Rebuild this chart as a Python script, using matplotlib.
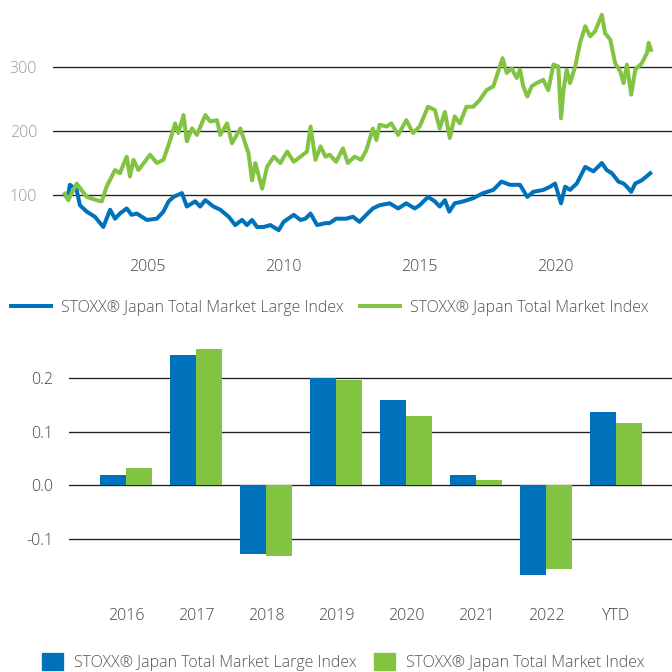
import matplotlib
matplotlib.use('Agg')
import matplotlib.pyplot as plt
from matplotlib.lines import Line2D
from matplotlib.patches import Patch
import numpy as np

plt.rcParams['font.family'] = ['Open Sans', 'DejaVu Sans']
plt.rcParams['font.weight'] = 'light'

BLUE = '#0071BB'
GREEN = '#82C341'
FS = 12

# index levels (decimal years)
large_years = [2001.98, 2002.08, 2002.16, 2002.41, 2002.53, 2002.78, 2003.08, 2003.39, 2003.64, 2003.82,
               2004.00, 2004.25, 2004.43, 2004.62, 2004.99, 2005.36, 2005.60, 2005.79, 2005.97, 2006.28,
               2006.46, 2006.77, 2006.95, 2007.14, 2007.44, 2007.69, 2008.00, 2008.24, 2008.49, 2008.67,
               2008.86, 2009.04, 2009.29, 2009.53, 2009.84, 2010.02, 2010.39, 2010.64, 2010.82, 2011.01,
               2011.25, 2011.56, 2011.71, 2011.95, 2012.32, 2012.57, 2012.81, 2013.06, 2013.30, 2013.55,
               2013.92, 2014.23, 2014.53, 2014.84, 2015.02, 2015.33, 2015.58, 2015.76, 2015.95, 2016.11,
               2016.31, 2016.62, 2016.99, 2017.36, 2017.73, 2018.03, 2018.34, 2018.71, 2018.98, 2019.20,
               2019.57, 2019.82, 2020.00, 2020.22, 2020.37, 2020.55, 2020.80, 2021.11, 2021.41, 2021.72,
               2021.90, 2022.09, 2022.33, 2022.52, 2022.64, 2022.80, 2022.95, 2023.19, 2023.50]
large_vals = [100, 95, 116, 108, 84, 74, 66, 50, 77, 63,
              71, 79, 69, 71, 61, 63, 74, 90, 97, 103,
              82, 90, 82, 92, 82, 77, 66, 53, 61, 53,
              61, 50, 50, 53, 45, 58, 69, 61, 63, 71,
              53, 56, 56, 63, 63, 66, 58, 69, 79, 84,
              87, 79, 87, 79, 84, 97, 90, 82, 92, 74,
              87, 90, 95, 103, 108, 121, 116, 116, 97, 105,
              108, 113, 118, 87, 113, 108, 118, 144, 137, 150,
              139, 134, 121, 118, 113, 105, 118, 123, 134]

total_years = [2001.98, 2002.10, 2002.41, 2002.78, 2003.14, 2003.33, 2003.51, 2003.82, 2004.00, 2004.25,
               2004.37, 2004.50, 2004.68, 2005.11, 2005.36, 2005.60, 2005.85, 2006.03, 2006.15, 2006.34,
               2006.46, 2006.65, 2006.83, 2007.14, 2007.32, 2007.57, 2007.69, 2007.94, 2008.12, 2008.43,
               2008.73, 2008.86, 2008.98, 2009.23, 2009.41, 2009.66, 2009.90, 2010.15, 2010.39, 2010.64,
               2010.88, 2011.01, 2011.19, 2011.38, 2011.56, 2011.71, 2011.95, 2012.20, 2012.38, 2012.63,
               2012.87, 2013.06, 2013.30, 2013.43, 2013.55, 2013.80, 2013.98, 2014.23, 2014.53, 2014.78,
               2015.02, 2015.33, 2015.58, 2015.76, 2015.95, 2016.13, 2016.31, 2016.50, 2016.74, 2016.99,
               2017.24, 2017.48, 2017.73, 2017.91, 2018.07, 2018.22, 2018.40, 2018.59, 2018.71, 2018.83,
               2018.98, 2019.14, 2019.32, 2019.57, 2019.75, 2019.94, 2020.12, 2020.22, 2020.31, 2020.43,
               2020.55, 2020.74, 2020.92, 2021.11, 2021.29, 2021.47, 2021.72, 2021.84, 2022.03, 2022.21,
               2022.40, 2022.52, 2022.64, 2022.80, 2022.95, 2023.19, 2023.38, 2023.44, 2023.53]
total_vals = [102, 92, 118, 97, 92, 90, 113, 139, 134, 160,
              129, 155, 139, 163, 150, 155, 186, 212, 197, 225,
              184, 204, 194, 225, 215, 217, 194, 212, 181, 204,
              165, 123, 150, 110, 144, 160, 150, 168, 152, 160,
              168, 207, 155, 176, 160, 163, 152, 173, 150, 160,
              155, 170, 204, 186, 210, 207, 212, 194, 217, 197,
              207, 238, 233, 204, 230, 189, 223, 212, 238, 238,
              249, 264, 270, 293, 314, 291, 298, 283, 296, 270,
              254, 270, 275, 280, 264, 304, 301, 220, 264, 296,
              275, 301, 338, 364, 348, 356, 382, 353, 343, 306,
              293, 275, 304, 257, 296, 306, 322, 338, 327]

# annual returns
bar_labels = ['2016', '2017', '2018', '2019', '2020', '2021', '2022', 'YTD']
large_ret = [0.019, 0.243, -0.128, 0.199, 0.158, 0.019, -0.167, 0.137]
total_ret = [0.033, 0.254, -0.131, 0.195, 0.128, 0.009, -0.155, 0.115]

name_large = 'STOXX® Japan Total Market Large Index'
name_total = 'STOXX® Japan Total Market Index'

fig = plt.figure(figsize=(7, 7), dpi=96)

# ---- line chart
ax1 = fig.add_axes([53/672, 1 - 250/672, 1 - 53/672, 250/672])
ax1.plot(large_years, large_vals, color=BLUE, lw=3, solid_joinstyle='round', zorder=3)
ax1.plot(total_years, total_vals, color=GREEN, lw=3, solid_joinstyle='round', zorder=3)
ax1.set_xlim(2001.54, 2024.3)
ax1.set_ylim(14, 405)
ax1.set_yticks([100, 200, 300])
ax1.set_xticks([2005, 2010, 2015, 2020])
ax1.set_xticklabels(['2005', '2010', '2015', '2020'])
ax1.yaxis.grid(True, color='#222222', lw=1)
ax1.set_axisbelow(True)
for s in ax1.spines.values():
    s.set_visible(False)
ax1.tick_params(axis='y', length=0, pad=12, labelsize=FS, labelcolor='#999999')
ax1.tick_params(axis='x', length=0, pad=7, labelsize=FS, labelcolor='#444444')

h1 = [Line2D([], [], color=BLUE, lw=3), Line2D([], [], color=GREEN, lw=3)]
fig.legend(h1, [name_large, name_total], loc='center left', bbox_to_anchor=(11/672, 1 - 308/672),
           ncol=2, frameon=False, fontsize=FS, handlelength=2.5, handletextpad=0.62,
           columnspacing=1.0, borderaxespad=0, borderpad=0, labelcolor='#555555')

# ---- bar chart
ax2 = fig.add_axes([69/672, 1 - 593/672, 1 - 69/672, 253/672])
x = np.arange(len(bar_labels))
w = 0.372
ax2.bar(x - w/2, large_ret, w, color=BLUE, zorder=3)
ax2.bar(x + w/2, total_ret, w, color=GREEN, zorder=3)
ax2.set_xlim(-0.82, 7.8)
ax2.set_ylim(-0.2, 0.27)
ax2.set_yticks([-0.1, 0.0, 0.1, 0.2])
ax2.set_yticklabels(['-0.1', '0.0', '0.1', '0.2'])
ax2.set_xticks(x)
ax2.set_xticklabels(bar_labels)
ax2.yaxis.grid(True, color='#222222', lw=1)
ax2.set_axisbelow(True)
for s in ax2.spines.values():
    s.set_visible(False)
ax2.tick_params(axis='y', length=0, pad=12, labelsize=FS, labelcolor='#444444')
ax2.tick_params(axis='x', length=0, pad=11, labelsize=FS, labelcolor='#444444')

h2 = [Patch(color=BLUE), Patch(color=GREEN)]
fig.legend(h2, [name_large, name_total], loc='center left', bbox_to_anchor=(42/672, 1 - 662/672),
           ncol=2, frameon=False, fontsize=FS, handlelength=1.31, handleheight=1.25,
           handletextpad=0.69, columnspacing=1.1, borderaxespad=0, borderpad=0,
           labelcolor='#555555')

fig.savefig('out.png', dpi=96)
